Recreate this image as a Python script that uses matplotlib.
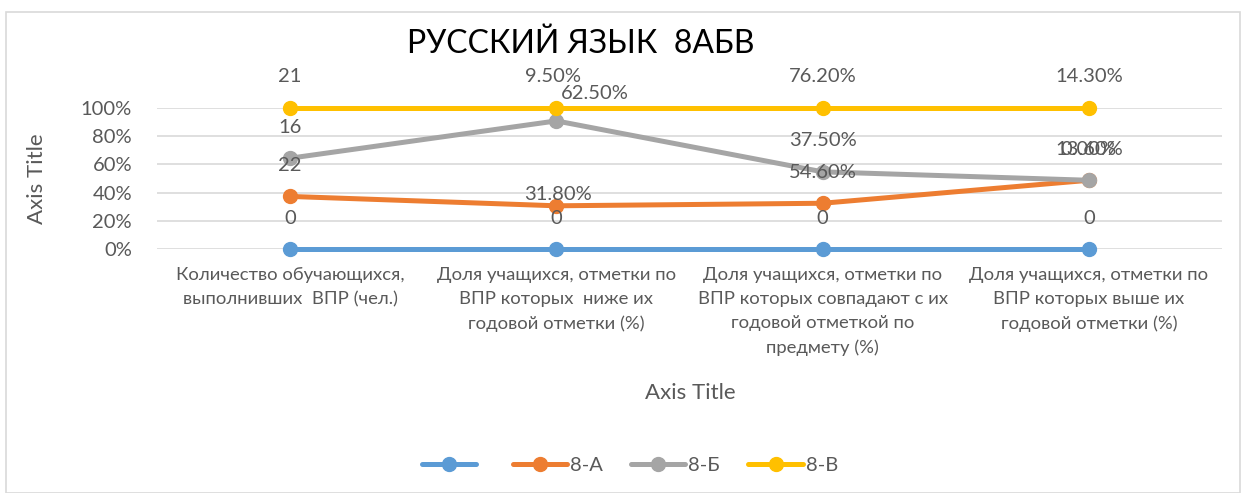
import matplotlib
matplotlib.use("Agg")
import matplotlib.pyplot as plt
import numpy as np

plt.rcParams['font.family'] = ['Lato', 'DejaVu Sans']

# data
categories = [
    "Количество обучающихся,\nвыполнивших  ВПР (чел.)",
    "Доля учащихся, отметки по\nВПР которых  ниже их\nгодовой отметки (%)",
    "Доля учащихся, отметки по\nВПР которых совпадают с их\nгодовой отметкой по\nпредмету (%)",
    "Доля учащихся, отметки по\nВПР которых выше их\nгодовой отметки (%)",
]
series_names = [" ", "8-А", "8-Б", "8-В"]
s_blank = [0, 0, 0, 0]
s_8a = [22, 0.318, 0.546, 0.136]
s_8b = [16, 0.625, 0.375, 0.0]
s_8v = [21, 0.095, 0.762, 0.143]
colors = ["#5B9BD5", "#ED7D31", "#A5A5A5", "#FFC000"]

vals = np.array([s_blank, s_8a, s_8b, s_8v], dtype=float)
# 100% stacked line
stacked = np.cumsum(vals, axis=0) / vals.sum(axis=0)


def fmt(i, j):
    v = vals[i, j]
    if j == 0 or i == 0:
        return f"{v:g}"
    return f"{v * 100:.2f}%"


# label offsets (pixels) for a few labels that were moved by hand
offsets = {(1, 1): (2, 11), (2, 1): (38, 27), (3, 1): (-3, 31)}

fig = plt.figure(figsize=(12.43, 4.93), dpi=100)
ax = fig.add_axes([157 / 1243, 1 - 249 / 493, 1065 / 1243, 141 / 493])

x = np.arange(len(categories))
text_col = "#595959"
for i in range(len(series_names)):
    ax.plot(x, stacked[i], color=colors[i], lw=3.6, marker='o', ms=10,
            label=series_names[i], clip_on=False, zorder=3 + i,
            solid_capstyle='round')
    for j in range(len(categories)):
        dx, dy = offsets.get((i, j), (0, 31))
        ax.annotate(fmt(i, j), (x[j], stacked[i, j]), xytext=(dx, dy),
                    textcoords='offset pixels', ha='center', va='center',
                    fontsize=14.5, color=text_col, zorder=10)

ax.set_xlim(-0.5, 3.5)
ax.set_ylim(0, 1)
ticks = np.arange(0, 1.01, 0.2)
ax.set_yticks(ticks)
ax.set_yticklabels([f"{int(round(t * 100))}%" for t in ticks])
ax.set_xticks(x)
ax.set_xticklabels(categories, fontsize=13.3, linespacing=1.62, va='top')
ax.tick_params(axis='both', length=0, colors=text_col)
ax.tick_params(axis='y', labelsize=14.5, pad=18)
ax.tick_params(axis='x', pad=13)
ax.grid(axis='y', color="#D9D9D9", lw=1.2)
ax.set_axisbelow(True)
for sp in ax.spines.values():
    sp.set_visible(False)

ax.set_ylabel("Axis Title", fontsize=16, color=text_col, labelpad=24)
fig.text(690 / 1243, 1 - 393 / 493, "Axis Title", fontsize=16, color=text_col,
         ha='center', va='center')
fig.text(581 / 1243, 1 - 44 / 493, "РУССКИЙ ЯЗЫК  8АБВ", fontsize=23,
         color="#000000", ha='center', va='center')

leg = fig.legend(loc='center', bbox_to_anchor=(630 / 1243, 1 - 465 / 493),
                 ncol=4, frameon=False, fontsize=14.5, handlelength=2.7,
                 columnspacing=1.4, handletextpad=0.15)
for t in leg.get_texts():
    t.set_color(text_col)

# outer chart border
fig.patches.append(plt.Rectangle((6 / 1243, 0), 1234 / 1243, 1 - 12 / 493,
                                 transform=fig.transFigure, fill=False,
                                 edgecolor="#D9D9D9", lw=1.2))

fig.savefig("out.png", dpi=100)
